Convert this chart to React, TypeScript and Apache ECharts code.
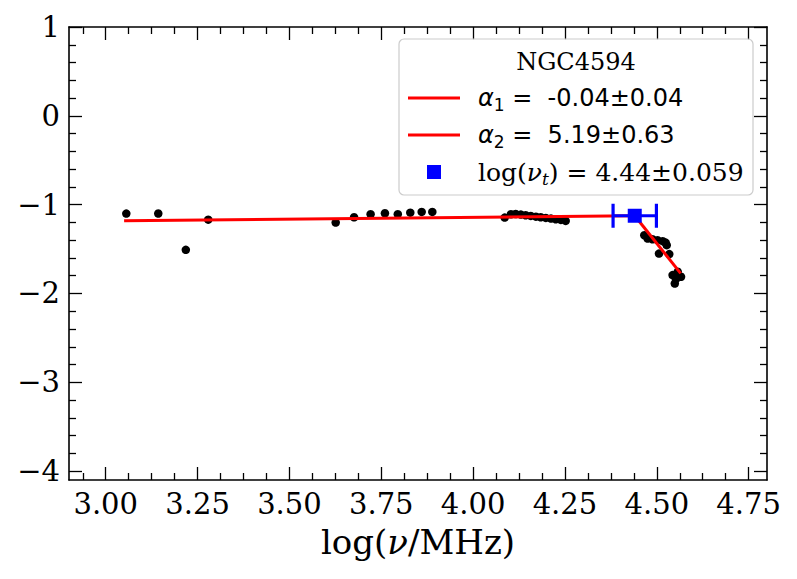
import React, { useEffect, useRef } from "react";
import * as echarts from "echarts";

// Radio spectrum of NGC4594: log frequency (MHz) and log flux density
const logFreq = [
  3.056, 3.143, 3.218, 3.279, 3.626, 3.676, 3.721, 3.76, 3.795, 3.829, 3.86, 3.889,
  4.086, 4.103, 4.116, 4.13, 4.143, 4.157, 4.171, 4.184, 4.198, 4.212, 4.225, 4.239, 4.252,
  4.466, 4.475, 4.488, 4.502, 4.516, 4.524, 4.527, 4.506, 4.534, 4.543, 4.557, 4.566, 4.552, 4.549,
];
const logFlux = [
  -1.101, -1.1, -1.509, -1.169, -1.202, -1.142, -1.108, -1.097, -1.108, -1.09, -1.082, -1.082,
  -1.146, -1.108, -1.105, -1.112, -1.119, -1.127, -1.135, -1.142, -1.149, -1.157, -1.164, -1.172, -1.183,
  -1.344, -1.382, -1.389, -1.4, -1.411, -1.427, -1.456, -1.551, -1.557, -1.793, -1.756, -1.812, -1.838, -1.888,
];

// Broken power-law fit (S ∝ ν^-α) with its turnover frequency
const sourceName = "NGC4594";
const alpha1 = -0.04;
const alpha1Err = 0.04;
const alpha2 = 5.19;
const alpha2Err = 0.63;
const turnoverLogFreq = 4.44;
const turnoverErr = 0.059;
const turnoverLogFlux = -1.125;
const fitLowEnd = 3.05;
const fitHighEnd = 4.565;

// Axis ticks
const xTickValues = [3.0, 3.25, 3.5, 3.75, 4.0, 4.25, 4.5, 4.75];
const yTickValues = [-4, -3, -2, -1, 0, 1];
const X_MIN = 2.9;
const X_MAX = 4.8;
const Y_MIN = -4.1;
const Y_MAX = 1;

const xMinorTicks: number[] = [];
for (let i = -1; i <= 29; i++) {
  const v = +(3 + i * 0.0625).toFixed(4);
  if (i % 4 !== 0 && v > X_MIN && v < X_MAX) xMinorTicks.push(v);
}
const yMinorTicks: number[] = [];
for (let i = 0; i <= 25; i++) {
  const v = +(-4 + i * 0.2).toFixed(4);
  if (i % 5 !== 0 && v > Y_MIN && v < Y_MAX) yMinorTicks.push(v);
}

const SERIF = '"DejaVu Serif", serif';
const SANS = '"DejaVu Sans", sans-serif';
const GRID = { left: 69, top: 27, width: 698, height: 453 };

const fmtMinus = (v: number) => (v < 0 ? "\u2212" + Math.abs(v) : String(v));
const fmtPM = (v: number, e: number, d: number) => `${v.toFixed(2)}±${e.toFixed(d)}`;

const tickLine = { color: "#000", width: 1.3 };

function xAxisOf(gridIndex: number, position: string, values: number[], length: number, main: boolean, labels: boolean) {
  const ax: any = {
    type: "value",
    gridIndex,
    position,
    min: X_MIN,
    max: X_MAX,
    axisLine: { show: main, onZero: false, lineStyle: { color: "#000", width: 1.6 } },
    axisTick: { show: true, inside: true, length, customValues: values, lineStyle: tickLine },
    axisLabel: { show: false },
    splitLine: { show: false },
    minorTick: { show: false },
  };
  if (labels) {
    ax.axisLabel = {
      show: true,
      customValues: xTickValues,
      formatter: (v: number) => v.toFixed(2),
      margin: 9,
      fontSize: 29,
      fontFamily: SERIF,
      color: "#000",
    };
    ax.name = "{a|log(}{i|ν}{a|/MHz)}";
    ax.nameLocation = "middle";
    ax.nameGap = 45;
    ax.nameTextStyle = {
      fontSize: 34,
      fontFamily: SERIF,
      color: "#000",
      rich: {
        a: { fontSize: 34, fontFamily: SERIF, color: "#000" },
        i: { fontSize: 34, fontFamily: SERIF, fontStyle: "italic", color: "#000" },
      },
    };
  }
  return ax;
}

function yAxisOf(gridIndex: number, position: string, values: number[], length: number, main: boolean, labels: boolean) {
  const ax: any = {
    type: "value",
    gridIndex,
    position,
    min: Y_MIN,
    max: Y_MAX,
    axisLine: { show: main, onZero: false, lineStyle: { color: "#000", width: 1.6 } },
    axisTick: { show: true, inside: true, length, customValues: values, lineStyle: tickLine },
    axisLabel: { show: false },
    splitLine: { show: false },
    minorTick: { show: false },
  };
  if (labels) {
    ax.axisLabel = {
      show: true,
      customValues: yTickValues,
      formatter: fmtMinus,
      margin: 9,
      fontSize: 29,
      fontFamily: SERIF,
      color: "#000",
    };
  }
  return ax;
}

export default function App() {
  const ref = useRef<HTMLDivElement>(null);

  useEffect(() => {
    if (!ref.current) return;
    const chart = echarts.init(ref.current, undefined, { renderer: "svg" });

    const points = logFreq.map((x, i) => [x, logFlux[i]]);
    // Fit segments from the stated spectral indices, joined at the turnover
    const lowFit = [
      [fitLowEnd, turnoverLogFlux - alpha1 * (fitLowEnd - turnoverLogFreq)],
      [turnoverLogFreq, turnoverLogFlux],
    ];
    const highFit = [
      [turnoverLogFreq, turnoverLogFlux],
      [fitHighEnd, turnoverLogFlux - alpha2 * (fitHighEnd - turnoverLogFreq)],
    ];

    const red = "#ff0000";
    const blue = "#0000ff";

    // Legend box
    const lx = 399;
    const ly = 39;
    const rows = [98, 135, 172];
    const legend: any[] = [
      {
        type: "rect",
        shape: { x: lx, y: ly, width: 354, height: 156, r: 5 },
        style: { fill: "rgba(255,255,255,0.8)", stroke: "#cccccc", lineWidth: 1.2 },
        z: 100,
      },
      {
        type: "text",
        x: 576,
        y: 62,
        style: { text: sourceName, font: `24px ${SERIF}`, fill: "#000", align: "center", verticalAlign: "middle" },
        z: 101,
      },
      {
        type: "line",
        shape: { x1: 408, y1: rows[0], x2: 460, y2: rows[0] },
        style: { stroke: red, lineWidth: 3 },
        z: 101,
      },
      {
        type: "line",
        shape: { x1: 408, y1: rows[1], x2: 460, y2: rows[1] },
        style: { stroke: red, lineWidth: 3 },
        z: 101,
      },
      {
        type: "rect",
        shape: { x: 427, y: rows[2] - 7, width: 14, height: 14 },
        style: { fill: blue },
        z: 101,
      },
    ];
    const sansRich = {
      g: { fontSize: 24, fontFamily: SANS, fontStyle: "italic", lineHeight: 30, fill: "#000" },
      s: { fontSize: 17, fontFamily: SANS, lineHeight: 14, verticalAlign: "bottom", fill: "#000" },
      t: { fontSize: 24, fontFamily: SANS, lineHeight: 30, fill: "#000" },
    };
    const serifRich = {
      g: { fontSize: 25, fontFamily: SERIF, fontStyle: "italic", lineHeight: 30, fill: "#000" },
      s: { fontSize: 17, fontFamily: SERIF, fontStyle: "italic", lineHeight: 14, verticalAlign: "bottom", fill: "#000" },
      t: { fontSize: 25, fontFamily: SERIF, lineHeight: 30, fill: "#000" },
    };
    const labelTexts = [
      { text: `{g|α}{s|1}{t| =  ${fmtPM(alpha1, alpha1Err, 2)}}`, rich: sansRich },
      { text: `{g|α}{s|2}{t| =  ${fmtPM(alpha2, alpha2Err, 2)}}`, rich: sansRich },
      { text: `{t|log(}{g|ν}{s|t}{t|) = ${fmtPM(turnoverLogFreq, turnoverErr, 3)}}`, rich: serifRich },
    ];
    labelTexts.forEach((lt, i) => {
      legend.push({
        type: "text",
        x: 478,
        y: rows[i],
        style: { text: lt.text, rich: lt.rich, align: "left", verticalAlign: "middle", fill: "#000" },
        z: 101,
      });
    });

    chart.setOption({
      animation: false,
      backgroundColor: "#ffffff",
      grid: [
        { ...GRID, containLabel: false },
        { ...GRID, containLabel: false },
      ],
      xAxis: [
        xAxisOf(0, "bottom", xTickValues, 13, true, true),
        xAxisOf(0, "top", xTickValues, 13, true, false),
        xAxisOf(1, "bottom", xMinorTicks, 7, false, false),
        xAxisOf(1, "top", xMinorTicks, 7, false, false),
      ],
      yAxis: [
        yAxisOf(0, "left", yTickValues, 13, true, true),
        yAxisOf(0, "right", yTickValues, 13, true, false),
        yAxisOf(1, "left", yMinorTicks, 7, false, false),
        yAxisOf(1, "right", yMinorTicks, 7, false, false),
      ],
      series: [
        {
          type: "scatter",
          name: "data",
          xAxisIndex: 0,
          yAxisIndex: 0,
          data: points,
          symbol: "circle",
          symbolSize: 8.5,
          itemStyle: { color: "#000000", opacity: 1 },
          z: 2,
        },
        {
          type: "line",
          name: "α1",
          xAxisIndex: 0,
          yAxisIndex: 0,
          data: lowFit,
          showSymbol: false,
          symbol: "none",
          lineStyle: { color: red, width: 3, opacity: 1 },
          z: 3,
        },
        {
          type: "line",
          name: "α2",
          xAxisIndex: 0,
          yAxisIndex: 0,
          data: highFit,
          showSymbol: false,
          symbol: "none",
          lineStyle: { color: red, width: 3, opacity: 1 },
          z: 3,
        },
        {
          type: "custom",
          name: "turnover error",
          xAxisIndex: 0,
          yAxisIndex: 0,
          data: [[turnoverLogFreq, turnoverLogFlux, turnoverErr]],
          encode: { x: 0, y: 1 },
          renderItem: (_params: any, api: any) => {
            const x = api.value(0);
            const y = api.value(1);
            const e = api.value(2);
            const l = api.coord([x - e, y]);
            const r = api.coord([x + e, y]);
            const cap = 12;
            const style = { stroke: blue, lineWidth: 3.2 };
            return {
              type: "group",
              children: [
                { type: "line", shape: { x1: l[0], y1: l[1], x2: r[0], y2: r[1] }, style },
                { type: "line", shape: { x1: l[0], y1: l[1] - cap, x2: l[0], y2: l[1] + cap }, style },
                { type: "line", shape: { x1: r[0], y1: r[1] - cap, x2: r[0], y2: r[1] + cap }, style },
              ],
            };
          },
          z: 4,
        },
        {
          type: "scatter",
          name: "turnover",
          xAxisIndex: 0,
          yAxisIndex: 0,
          data: [[turnoverLogFreq, turnoverLogFlux]],
          symbol: "rect",
          symbolSize: 14,
          itemStyle: { color: blue, opacity: 1 },
          z: 5,
        },
      ],
      graphic: legend,
    });

    return () => chart.dispose();
  }, []);

  return (
    <div
      ref={ref}
      style={{ position: "fixed", left: 0, top: 0, width: 797, height: 579, background: "#fff" }}
    />
  );
}
